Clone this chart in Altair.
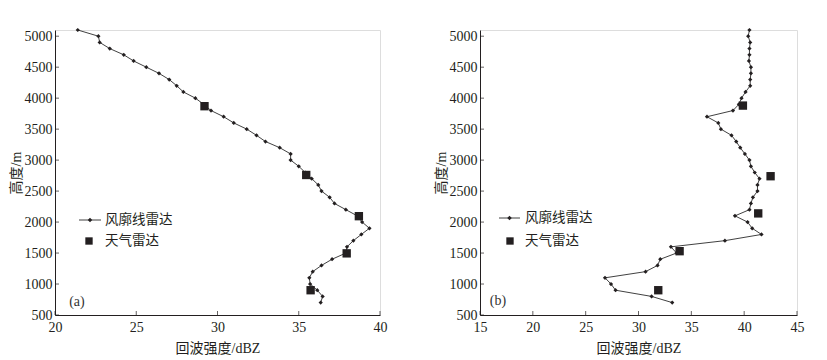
import altair as alt
import pandas as pd

# ---------------- data ----------------
heights = [5100, 5000, 4900, 4800, 4700, 4600, 4500, 4400, 4300, 4200, 4100, 4000,
           3900, 3800, 3700, 3600, 3500, 3400, 3300, 3200, 3100, 3000, 2900, 2800,
           2700, 2600, 2500, 2400, 2300, 2200, 2100, 2000, 1900, 1800, 1700, 1600,
           1500, 1400, 1300, 1200, 1100, 1000, 900, 800, 700]

profiler_a = [21.4, 22.67, 22.75, 23.37, 24.23, 24.84, 25.62, 26.4, 27.03, 27.49, 27.9, 28.64,
              29.15, 29.6, 30.38, 31.0, 31.8, 32.4, 32.95, 33.83, 34.5, 34.5, 35.0, 35.4,
              35.8, 36.2, 36.4, 36.9, 37.2, 37.9, 38.6, 38.9, 39.35, 38.85, 38.36, 37.97,
              37.9, 37.05, 36.4, 35.86, 35.65, 35.7, 36.14, 36.47, 36.35]

profiler_b = [40.5, 40.38, 40.57, 40.5, 40.5, 40.45, 40.64, 40.64, 40.57, 40.57, 40.13, 39.75,
              39.5, 38.94, 36.48, 37.55, 37.8, 38.8, 39.25, 39.63, 40.07, 40.5, 40.64, 41.0,
              41.45, 41.26, 41.26, 40.83, 40.64, 40.5, 39.13, 40.32, 40.76, 41.64, 38.18, 33.07,
              33.6, 32.06, 31.8, 30.67, 26.83, 27.4, 27.83, 31.24, 33.19]

radar_a_dbz = [29.2, 35.46, 38.7, 37.95, 35.73]
radar_a_h = [3870, 2760, 2095, 1495, 900]

radar_b_dbz = [39.88, 42.5, 41.33, 33.89, 31.87]
radar_b_h = [3880, 2740, 2140, 1530, 900]

series_names = ["风廓线雷达", "天气雷达"]
y_ticks = [500, 1000, 1500, 2000, 2500, 3000, 3500, 4000, 4500, 5000]
xa_ticks = [20, 25, 30, 35, 40]
xb_ticks = [15, 20, 25, 30, 35, 40, 45]
y_domain = [500, 5100]
xa_domain = [20, 40]
xb_domain = [15, 45]
panel_labels = ["(a)", "(b)"]
label_pos_a = (21.35, 715)
label_pos_b = (16.7, 720)

# ---------------- style ----------------
INK = "#231f20"
LINE = "#2b2b2b"
NUM_FONT = "Liberation Serif"
CJK_FONT = "Liberation Serif, Noto Sans CJK SC"
W_A, W_B, H = 325, 317, 285


def panel(prof, rad_x, rad_h, xdom, xticks, width, label, lpos, leg):
    xs = alt.Scale(domain=xdom, nice=False, zero=False)
    ys = alt.Scale(domain=y_domain, nice=False, zero=False)
    xaxis = alt.Axis(values=xticks, tickSize=0, grid=False, domainColor=INK,
                     domainWidth=1, labelFont=NUM_FONT, labelFontSize=14,
                     labelColor=INK, labelPadding=5, labelFlush=False, labelOverlap=False,
                     format="d",
                     title="回波强度/dBZ", titleFont=CJK_FONT, titleFontSize=14,
                     titleFontWeight="normal", titleColor=INK, titlePadding=7)
    yaxis = alt.Axis(values=y_ticks, tickSize=0, grid=False, domainColor=INK,
                     domainWidth=1, labelFont=NUM_FONT, labelFontSize=14,
                     labelColor=INK, labelPadding=3, labelFlush=False, labelOverlap=False,
                     format="d",
                     title="高度/m", titleFont=CJK_FONT, titleFontSize=14,
                     titleFontWeight="normal", titleColor=INK, titlePadding=1)

    X = lambda f: alt.X(f, scale=xs, axis=xaxis)
    Y = lambda f: alt.Y(f, scale=ys, axis=yaxis)

    df_p = pd.DataFrame({"dbz": prof, "h": heights})
    df_r = pd.DataFrame({"dbz": rad_x, "h": rad_h})

    line = alt.Chart(df_p).mark_line(color=LINE, strokeWidth=0.9).encode(
        x=X("dbz:Q"), y=Y("h:Q"), order=alt.Order("h:Q"))
    dots = alt.Chart(df_p).mark_point(shape="diamond", filled=True, size=18,
                                      color=INK, opacity=1).encode(x=X("dbz:Q"), y=Y("h:Q"))
    squares = alt.Chart(df_r).mark_point(shape="square", filled=True, size=70,
                                         color=INK, opacity=1).encode(x=X("dbz:Q"), y=Y("h:Q"))

    yt = alt.Chart(pd.DataFrame({"v": y_ticks})).mark_tick(
        orient="horizontal", size=4, thickness=1, color=INK).encode(
        y=Y("v:Q"), x=alt.value(2))
    xt = alt.Chart(pd.DataFrame({"v": xticks})).mark_tick(
        orient="vertical", size=4, thickness=1, color=INK).encode(
        x=X("v:Q"), y=alt.value(H - 2))

    lab = alt.Chart(pd.DataFrame({"t": [label], "x": [lpos[0]], "y": [lpos[1]]})).mark_text(
        font=NUM_FONT, fontSize=14, color="#333333").encode(
        x=X("x:Q"), y=Y("y:Q"), text="t:N")

    # legend (two entries), drawn inside the plot area
    lx0, lx1, ly1, sqx, ly2, tx = leg
    leg_df1 = pd.DataFrame({"t": [series_names[0]]})
    leg_df2 = pd.DataFrame({"t": [series_names[1]]})
    l_rule = alt.Chart(leg_df1).mark_rule(color=LINE, strokeWidth=0.9).encode(
        x=alt.value(lx0), x2=alt.value(lx1), y=alt.value(ly1))
    l_dot = alt.Chart(leg_df1).mark_point(shape="diamond", filled=True, size=20,
                                          color=INK, opacity=1).encode(
        x=alt.value((lx0 + lx1) / 2), y=alt.value(ly1))
    l_t1 = alt.Chart(leg_df1).mark_text(align="left", baseline="middle", font=CJK_FONT,
                                        fontSize=13.5, color=INK).encode(
        x=alt.value(tx), y=alt.value(ly1), text="t:N")
    l_sq = alt.Chart(leg_df2).mark_point(shape="square", filled=True, size=54,
                                         color=INK, opacity=1).encode(
        x=alt.value(sqx), y=alt.value(ly2))
    l_t2 = alt.Chart(leg_df2).mark_text(align="left", baseline="middle", font=CJK_FONT,
                                        fontSize=13.5, color=INK).encode(
        x=alt.value(tx), y=alt.value(ly2), text="t:N")

    return alt.layer(line, dots, squares, yt, xt, lab,
                     l_rule, l_dot, l_t1, l_sq, l_t2).properties(width=width, height=H)


left = panel(profiler_a, radar_a_dbz, radar_a_h, xa_domain, xa_ticks, W_A,
             panel_labels[0], label_pos_a, (24, 46, 190, 34, 211, 50))
right = panel(profiler_b, radar_b_dbz, radar_b_h, xb_domain, xb_ticks, W_B,
              panel_labels[1], label_pos_b, (19, 40, 188, 30, 211, 45))

chart = alt.hconcat(left, right, spacing=100, bounds="flush").resolve_scale(
    x="independent", y="independent"
).properties(
    padding={"left": 0, "top": 19, "right": 0, "bottom": 0}
).configure_view(stroke=None).configure(background="white")

chart.save("out.html", embed_options={"renderer": "svg", "actions": False})
